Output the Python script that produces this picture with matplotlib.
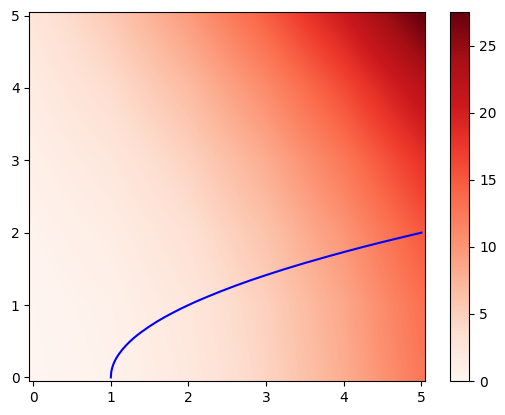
import matplotlib.pyplot as plt
import numpy as np

xWerte = [0, 1, 2, 3, 4, 5]
yWerte = [0, 1, 2, 3, 4, 5]
zeile0 = [0.0, 0.5, 2.0, 4.5, 8.0, 12.5]
zeile1 = [0.1, 0.7, 2.3, 4.9, 8.5, 13.1]
zeile2 = [0.4, 1.3, 3.2, 6.1, 10.0, 14.9]
zeile3 = [0.9, 2.3, 4.7, 8.1, 12.5, 17.9]
zeile4 = [1.6, 3.7, 6.8, 10.9, 16.0, 22.1]
zeile5 = [2.5, 5.5, 9.5, 14.5, 20.5, 27.5]

kurveX = [1.0, 1.005, 1.01, 1.02, 1.03, 1.04, 1.05, 1.07, 1.1, 1.15, 1.2, 1.25,
          1.3, 1.35, 1.4, 1.5, 1.6, 1.7, 1.8, 1.9, 2.0, 2.1, 2.2, 2.4, 2.6,
          2.8, 3.0, 3.25, 3.5, 3.75, 4.0, 4.25, 4.5, 4.75, 5.0]
kurveY = [0.0, 0.071, 0.1, 0.141, 0.173, 0.2, 0.224, 0.265, 0.316, 0.387, 0.447, 0.5,
          0.548, 0.592, 0.632, 0.707, 0.775, 0.837, 0.894, 0.949, 1.0, 1.049, 1.095,
          1.183, 1.265, 1.342, 1.414, 1.5, 1.581, 1.658, 1.732, 1.803, 1.871, 1.936, 2.0]

Z = np.array([zeile0, zeile1, zeile2, zeile3, zeile4, zeile5])

fig = plt.figure(figsize=(5.06, 4.15), dpi=100)
ax = fig.add_axes([0.0579, 0.0819, 0.7826, 0.8892])
cax = fig.add_axes([0.8893, 0.0819, 0.0381, 0.8892])

dx = (xWerte[1] - xWerte[0]) / 2
img = ax.imshow(Z, cmap='Reds', origin='lower', aspect='auto',
                extent=(xWerte[0] - dx, xWerte[-1] + dx, yWerte[0] - dx, yWerte[-1] + dx),
                interpolation='bilinear', interpolation_stage='data',
                vmin=0, vmax=27.5)
ax.plot(kurveX, kurveY, color='blue', linewidth=1.5)
ax.set_xlim(-0.05, 5.05)
ax.set_ylim(-0.05, 5.05)

fig.colorbar(img, cax=cax)

plt.savefig('out.png')
